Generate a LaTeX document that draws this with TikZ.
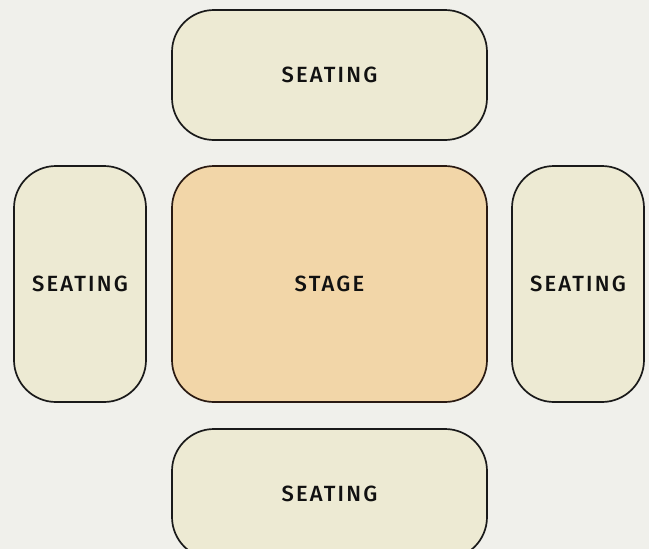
\documentclass[tikz,border=0pt]{standalone}
\usepackage{fontspec}
\setmainfont{Fira Sans}[UprightFont={* Medium}]
\definecolor{bg}{HTML}{F0F0EB}
\definecolor{seatfill}{HTML}{EDEAD3}
\definecolor{stagefill}{HTML}{F2D6A8}
\definecolor{edge}{HTML}{1A1A1A}
\definecolor{stageedge}{HTML}{2A1A12}
\definecolor{txt}{HTML}{111111}
\tikzset{
  area/.style={draw=edge, line width=1.7pt, rounded corners=42pt, fill=seatfill,
    text=txt, font=\fontsize{22}{26}\selectfont\addfontfeatures{LetterSpace=10}, inner sep=0pt, outer sep=0pt},
  widearea/.style={area, minimum width=315pt, minimum height=130pt},
  tallarea/.style={area, minimum width=132pt, minimum height=236pt},
  stagearea/.style={area, draw=stageedge, fill=stagefill, minimum width=315pt, minimum height=236pt},
}
\begin{document}
\begin{tikzpicture}[x=1pt,y=-1pt]
\fill[bg] (0,0) rectangle (649,549);
\useasboundingbox (0,0) rectangle (649,549);
\clip (0,0) rectangle (649,549);
\node[widearea] (top) at (329.5,75) {SEATING};
\node[tallarea] (left) at (80,284) {SEATING};
\node[stagearea] (stage) at (329.5,284) {STAGE};
\node[tallarea] (right) at (578,284) {SEATING};
\node[widearea] (bottom) at (329.5,494) {SEATING};
\end{tikzpicture}
\end{document}
